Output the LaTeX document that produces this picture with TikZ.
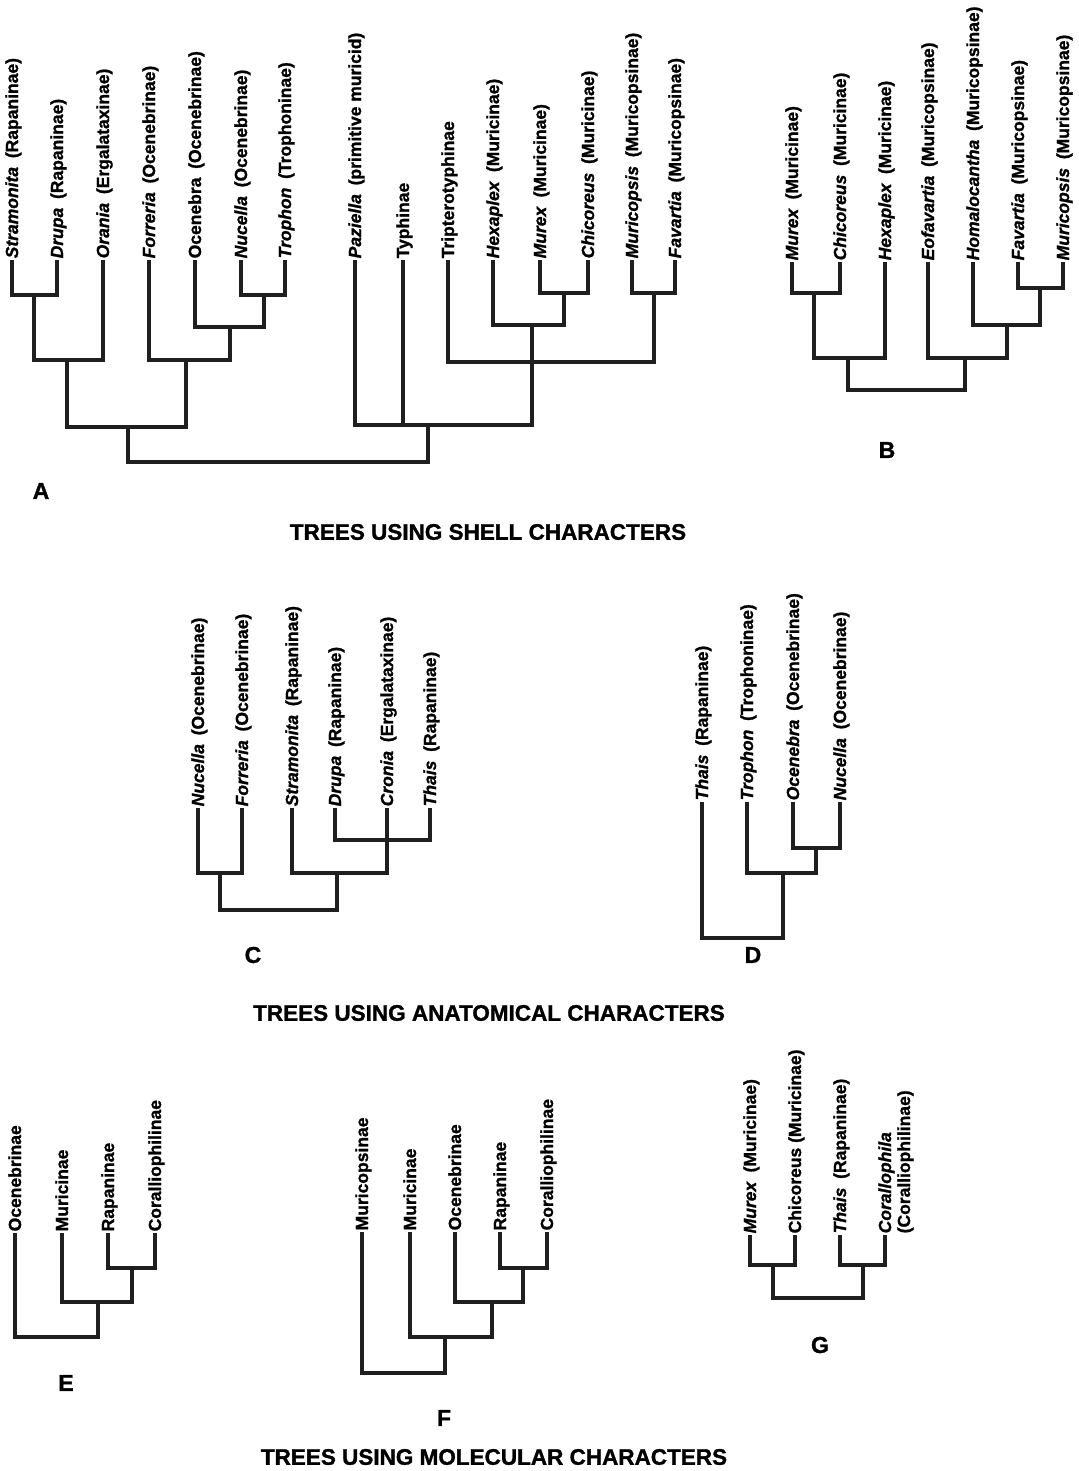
\documentclass[tikz,border=0pt]{standalone}
\usepackage{fontspec}
\setmainfont{Liberation Sans}[BoldFeatures={FakeBold=1.2},BoldItalicFeatures={FakeBold=1.2}]
\newcommand\labfont{\fontsize{17.5}{20}\selectfont\bfseries}
\newcommand\ttlfont{\fontsize{22.5}{26}\selectfont\bfseries}
\newcommand\letfont{\fontsize{23}{26}\selectfont\bfseries}
\newcommand\gen[1]{\textit{#1}}
\newcommand\gsep{\hspace{0.5em}}
\newcommand\mkleaf[4]{\coordinate (#1) at (#2,#3); \node[lab] (#1t) at ({#2+6},#3) {#4};}
\begin{document}
\begin{tikzpicture}[x=1pt,y=-1pt,
  lab/.style={rotate=90,anchor=base west,inner sep=1.5pt,font=\labfont},
  br/.style={line width=3.2pt,draw=black!88},
  ttl/.style={font=\ttlfont,inner sep=0pt},
  letr/.style={font=\letfont,inner sep=0pt}]
\useasboundingbox[fill=white] (0,0) rectangle (1078,1471);

% ---------------- Tree A ----------------
\mkleaf{A1}{12}{260}{\gen{Stramonita}\gsep(Rapaninae)}
\mkleaf{A2}{57}{260}{\gen{Drupa}\gsep(Rapaninae)}
\mkleaf{A3}{103}{260}{\gen{Orania}\gsep(Ergalataxinae)}
\mkleaf{A4}{149}{260}{\gen{Forreria}\gsep(Ocenebrinae)}
\mkleaf{A5}{195}{260}{Ocenebra\gsep(Ocenebrinae)}
\mkleaf{A6}{241}{260}{\gen{Nucella}\gsep(Ocenebrinae)}
\mkleaf{A7}{285}{260}{\gen{Trophon}\gsep(Trophoninae)}
\mkleaf{A8}{355}{260}{\gen{Paziella}\gsep(primitive muricid)}
\mkleaf{A9}{403}{260}{Typhinae}
\mkleaf{A10}{448}{260}{Tripterotyphinae}
\mkleaf{A11}{493}{260}{\gen{Hexaplex}\gsep(Muricinae)}
\mkleaf{A12}{540}{260}{\gen{Murex}\gsep(Muricinae)}
\mkleaf{A13}{588}{260}{\gen{Chicoreus}\gsep(Muricinae)}
\mkleaf{A14}{632}{260}{\gen{Muricopsis}\gsep(Muricopsinae)}
\mkleaf{A15}{675}{260}{\gen{Favartia}\gsep(Muricopsinae)}

\coordinate (a12) at (34,295);
\draw[br] (A1) |- (a12) -| (A2);
\coordinate (a123) at (67,360);
\draw[br] (a12) |- (a123) -| (A3);
\coordinate (a67) at (264,295);
\draw[br] (A6) |- (a67) -| (A7);
\coordinate (a567) at (230,327);
\draw[br] (A5) |- (a567) -| (a67);
\coordinate (a4567) at (186,360);
\draw[br] (A4) |- (a4567) -| (a567);
\coordinate (aL) at (128,427);
\draw[br] (a123) |- (aL) -| (a4567);
\coordinate (a1213) at (564,293);
\draw[br] (A12) |- (a1213) -| (A13);
\coordinate (aH) at (532,325);
\draw[br] (A11) |- (aH) -| (a1213);
\coordinate (a1415) at (654,293);
\draw[br] (A14) |- (a1415) -| (A15);
\coordinate (aT) at (532,362);
\draw[br] (A10) |- (aT) -| (a1415);
\coordinate (aR) at (428,425);
\draw[br] (A8) |- (aR) -| (aH);
\draw[br] (A9) -- (A9 |- aR);
\coordinate (aroot) at (278,462);
\draw[br] (aL) |- (aroot) -| (aR);

% ---------------- Tree B ----------------
\mkleaf{B1}{792}{262}{\gen{Murex}\gsep(Muricinae)}
\mkleaf{B2}{840}{262}{\gen{Chicoreus}\gsep(Muricinae)}
\mkleaf{B3}{885}{262}{\gen{Hexaplex}\gsep(Muricinae)}
\mkleaf{B4}{928}{262}{\gen{Eofavartia}\gsep(Muricopsinae)}
\mkleaf{B5}{973}{262}{\gen{Homalocantha}\gsep(Muricopsinae)}
\mkleaf{B6}{1018}{262}{\gen{Favartia}\gsep(Muricopsinae)}
\mkleaf{B7}{1063}{262}{\gen{Muricopsis}\gsep(Muricopsinae)}

\coordinate (b12) at (814,293);
\draw[br] (B1) |- (b12) -| (B2);
\coordinate (b123) at (848,358);
\draw[br] (b12) |- (b123) -| (B3);
\coordinate (b67) at (1040,288);
\draw[br] (B6) |- (b67) -| (B7);
\coordinate (b567) at (1007,325);
\draw[br] (B5) |- (b567) -| (b67);
\coordinate (b4567) at (965,358);
\draw[br] (B4) |- (b4567) -| (b567);
\coordinate (broot) at (906,390);
\draw[br] (b123) |- (broot) -| (b4567);

% ---------------- Tree C ----------------
\mkleaf{C1}{198}{808}{\gen{Nucella}\gsep(Ocenebrinae)}
\mkleaf{C2}{242}{808}{\gen{Forreria}\gsep(Ocenebrinae)}
\mkleaf{C3}{292}{808}{\gen{Stramonita}\gsep(Rapaninae)}
\mkleaf{C4}{335}{808}{\gen{Drupa}\gsep(Rapaninae)}
\mkleaf{C5}{387}{808}{\gen{Cronia}\gsep(Ergalataxinae)}
\mkleaf{C6}{430}{808}{\gen{Thais}\gsep(Rapaninae)}

\coordinate (c12) at (220,873);
\draw[br] (C1) |- (c12) -| (C2);
\coordinate (c46) at (387,840);
\draw[br] (C4) |- (c46) -| (C6);
\coordinate (c35) at (337,873);
\draw[br] (C3) |- (c35) -| (C5);
\coordinate (croot) at (279,910);
\draw[br] (c12) |- (croot) -| (c35);

% ---------------- Tree D ----------------
\mkleaf{D1}{702}{802}{\gen{Thais}\gsep(Rapaninae)}
\mkleaf{D2}{747}{802}{\gen{Trophon}\gsep(Trophoninae)}
\mkleaf{D3}{793}{802}{\gen{Ocenebra}\gsep(Ocenebrinae)}
\mkleaf{D4}{840}{802}{\gen{Nucella}\gsep(Ocenebrinae)}

\coordinate (d34) at (816,848);
\draw[br] (D3) |- (d34) -| (D4);
\coordinate (d234) at (783,873);
\draw[br] (D2) |- (d234) -| (d34);
\coordinate (droot) at (742,938);
\draw[br] (D1) |- (droot) -| (d234);

% ---------------- Tree E ----------------
\mkleaf{E1}{15}{1233}{Ocenebrinae}
\mkleaf{E2}{62}{1233}{Muricinae}
\mkleaf{E3}{108}{1233}{Rapaninae}
\mkleaf{E4}{155}{1233}{Coralliophilinae}

\coordinate (e34) at (132,1268);
\draw[br] (E3) |- (e34) -| (E4);
\coordinate (e234) at (98,1302);
\draw[br] (E2) |- (e234) -| (e34);
\coordinate (eroot) at (57,1337);
\draw[br] (E1) |- (eroot) -| (e234);

% ---------------- Tree F ----------------
\mkleaf{F1}{362}{1232}{Muricopsinae}
\mkleaf{F2}{410}{1232}{Muricinae}
\mkleaf{F3}{455}{1232}{Ocenebrinae}
\mkleaf{F4}{500}{1232}{Rapaninae}
\mkleaf{F5}{547}{1232}{Coralliophilinae}

\coordinate (f45) at (523,1268);
\draw[br] (F4) |- (f45) -| (F5);
\coordinate (f345) at (492,1302);
\draw[br] (F3) |- (f345) -| (f45);
\coordinate (f2345) at (445,1337);
\draw[br] (F2) |- (f2345) -| (f345);
\coordinate (froot) at (404,1373);
\draw[br] (F1) |- (froot) -| (f2345);

% ---------------- Tree G ----------------
\mkleaf{G1}{750}{1235}{\gen{Murex}\gsep(Muricinae)}
\mkleaf{G2}{795}{1235}{Chicoreus (Muricinae)}
\mkleaf{G3}{840}{1235}{\gen{Thais}\gsep(Rapaninae)}
\mkleaf{G4}{885}{1235}{\gen{Corallophila}}
\node[lab] (G4b) at (910,1235) {(Coralliophilinae)};

\coordinate (g12) at (773,1265);
\draw[br] (G1) |- (g12) -| (G2);
\coordinate (g34) at (863,1265);
\draw[br] (G3) |- (g34) -| (G4);
\coordinate (groot) at (818,1298);
\draw[br] (g12) |- (groot) -| (g34);

% ---------------- Letters and titles ----------------
\node[letr] (LA) at (41,491) {A};
\node[letr] (LB) at (887,450) {B};
\node[letr] (LC) at (253,955) {C};
\node[letr] (LD) at (753,955) {D};
\node[letr] (LE) at (66,1383) {E};
\node[letr] (LF) at (444,1418) {F};
\node[letr] (LG) at (820,1345) {G};

\node[ttl] (T1) at (488,532) {TREES USING SHELL CHARACTERS};
\node[ttl] (T2) at (489,1013) {TREES USING ANATOMICAL CHARACTERS};
\node[ttl] (T3) at (494,1457) {TREES USING MOLECULAR CHARACTERS};
\end{tikzpicture}
\end{document}
